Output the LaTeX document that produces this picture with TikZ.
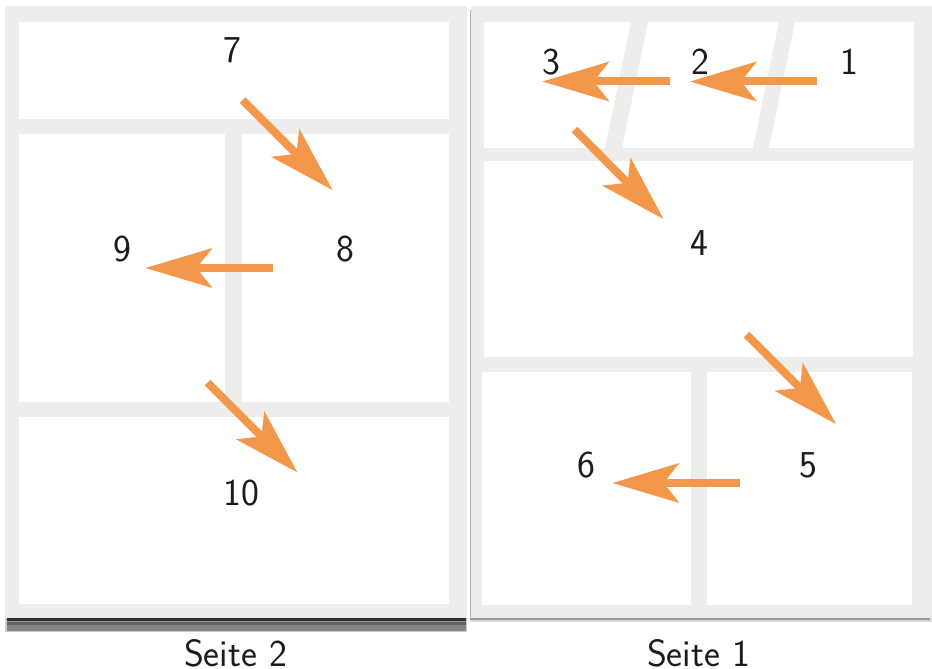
\documentclass[tikz,border=0pt]{standalone}
\usetikzlibrary{arrows.meta}
\definecolor{pagegray}{HTML}{EDEDEB}
\definecolor{arroworange}{HTML}{F3974B}
\definecolor{inkc}{HTML}{1C1C1C}
\tikzset{
  pagebg/.style={fill=pagegray,draw=none},
  panel/.style={fill=white,draw=none},
  lbl/.style={font=\sffamily\fontsize{38}{38}\selectfont,text=inkc,inner sep=0pt},
  readarrow/.style={draw=arroworange,line width=8pt,
    -{Stealth[length=67pt,width=40pt,inset=16pt,fill=arroworange,line width=0pt]}}
}
\begin{document}
\begin{tikzpicture}[x=1pt,y=-1pt]
\useasboundingbox (0,0) rectangle (932,669);
\fill[white] (0,0) rectangle (932,669);
% left page
\path[pagebg] (5,6) rectangle (467,618);
\fill[black!20] (5,618) rectangle (467,632);
\fill[black!50] (7,618) rectangle (466,631);
\fill[black!82] (7,618) rectangle (466,620.5);
\fill[black!42] (7,620.5) rectangle (466,622);
\fill[black!62] (7,622) rectangle (466,624.5);
\fill[black!48] (7,624.5) rectangle (466,631);
\fill[panel] (19,22) rectangle (449,119);
\fill[panel] (19,134) rectangle (225,402);
\fill[panel] (242,134) rectangle (449,402);
\fill[panel] (19,417) rectangle (449,604);
% right page
\fill[black!15] (470,618) rectangle (932,621.5);
\path[pagebg] (471,6) rectangle (932,618);
\fill[black!30] (470,10) rectangle (471.2,620);
\fill[black!40] (470,618) rectangle (930,620);
\fill[panel] (484,22) rectangle (914,148);
\fill[pagegray] (631,22) -- (648,22) -- (622,148) -- (605,148) -- cycle;
\fill[pagegray] (779,22) -- (795,22) -- (769,148) -- (753,148) -- cycle;
\fill[panel] (484,161) rectangle (913,357);
\fill[panel] (482,372) rectangle (691,605);
\fill[panel] (707,372) rectangle (912,605);
% labels
\node[lbl] (n7) at (232.5,50) {7};
\node[lbl] (n8) at (345,249) {8};
\node[lbl] (n9) at (122.5,249) {9};
\node[lbl] (n10) at (241,493) {10};
\node[lbl] (n1) at (849.5,62) {1};
\node[lbl] (n2) at (700.5,62) {2};
\node[lbl] (n3) at (551.5,62) {3};
\node[lbl] (n4) at (699.5,243) {4};
\node[lbl] (n5) at (808,465) {5};
\node[lbl] (n6) at (586.5,465) {6};
\node[lbl] (s2) at (235.5,653) {Seite 2};
\node[lbl] (s1) at (698.5,653) {Seite 1};
% arrow ends
\coordinate (a1s) at (817,81.5); \coordinate (a1e) at (690,81.5);
\coordinate (a2s) at (669.5,81.5); \coordinate (a2e) at (542.5,81.5);
\coordinate (a3s) at (574.5,129.5); \coordinate (a3e) at (663.5,219);
\coordinate (a4s) at (746.5,334.5); \coordinate (a4e) at (836,424);
\coordinate (a5s) at (739.5,483); \coordinate (a5e) at (612.5,483);
\coordinate (a6s) at (242.5,100); \coordinate (a6e) at (332.5,190);
\coordinate (a7s) at (272.5,268); \coordinate (a7e) at (145.5,268);
\coordinate (a8s) at (207.5,382.5); \coordinate (a8e) at (297.5,472.5);
\foreach \a in {1,...,8} \draw[readarrow] (a\a s) -- (a\a e);
\end{tikzpicture}
\end{document}
